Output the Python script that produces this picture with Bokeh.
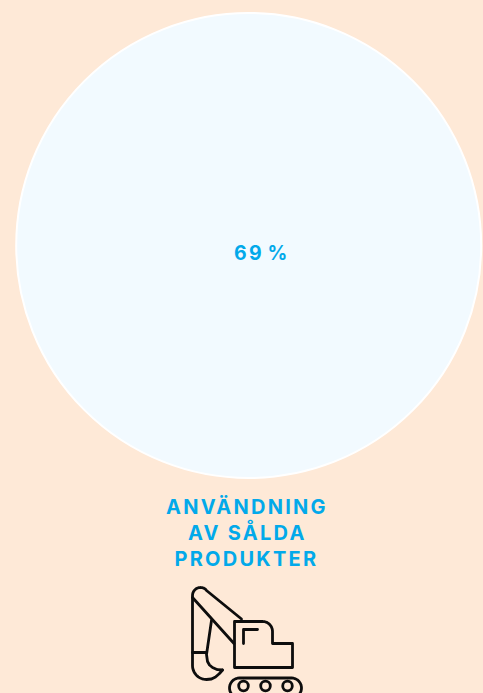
import numpy as np
from bokeh.plotting import figure
from bokeh.models import Range1d
from bokeh.core.properties import value
from bokeh.embed import file_html
from bokeh.resources import INLINE

share_label = ["69\u200a%"]
category_lines = ["ANVÄNDNING", "AV SÅLDA", "PRODUKTER"]

BG = "#fee9d7"
BLUE = "#02a9ea"
CIRCLE = "#f2faff"
INK = "#0d0d0d"
W, H = 483, 693

def arc(cx, cy, r, a0, a1, n=16):
    t = np.radians(np.linspace(a0, a1, n))
    return list(cx + r * np.cos(t)), list(cy + r * np.sin(t))

def path(*parts):
    xs, ys = [], []
    for px, py in parts:
        xs += list(px); ys += list(py)
    return xs, ys

p = figure(width=W, height=H, output_backend="svg", toolbar_location=None,
           x_range=Range1d(0, W), y_range=Range1d(H, 0),
           background_fill_color=BG, border_fill_color=BG,
           min_border=0, outline_line_color=None)
p.axis.visible = False
p.grid.visible = False

p.circle([248.2], [245], radius=232.5, fill_color=CIRCLE, line_color="white", line_width=2)

p.text([233.5], [252], text=share_label, text_font=value("Inter"), text_font_style="bold",
       text_font_size="19.5px", text_color=BLUE, text_align="left", text_baseline="alphabetic")
p.text([165.5, 187.5, 174], [506.5, 532.5, 558], text=category_lines, text_font=value("Inter"),
       text_font_style="bold", text_font_size="20px", text_color=BLUE,
       text_align="left", text_baseline="alphabetic")

# excavator pictogram
shapes = [
    # boom and arm outline
    path(([241], [618.5]), ([206], [590]), arc(200, 595, 8, -50, -180), ([192], [665]),
         arc(206, 665, 14, 180, 90), ([211, 215, 219, 222], [678.5, 676.5, 673, 669.5])),
    path(([192], [597]), ([233.5], [643])),
    path(([211], [620]), ([206], [654]), ([207, 209, 212, 217, 222], [661, 664.5, 667, 669.2, 669.5])),
    path(([192], [652]), ([206], [652])),
    # cab
    path(([234], [621]), ([262], [621]), arc(262, 631, 10, -90, 0), ([272], [643]), ([292], [643]),
         ([292], [667]), ([234], [667]), ([234], [621])),
    path(([243], [643]), ([243], [629]), ([257], [629])),
    # track
    path(([239], [677.5]), ([291], [677.5]), arc(291, 687.5, 10, -90, 90), ([239], [697.5]),
         arc(239, 687.5, 10, 90, 270)),
]
p.multi_line([s[0] for s in shapes], [s[1] for s in shapes], line_color=INK, line_width=2.8,
              line_cap="round", line_join="round")
p.circle([243, 265, 287], [685.5, 685.5, 685.5], radius=4.8, fill_color=None,
         line_color=INK, line_width=2.8)

html = file_html(p, INLINE)
style = ("<style>html,body{margin:0!important;padding:0;background:%s;overflow:hidden;"
         "letter-spacing:2.25px}</style>" % BG)
html = html.replace("</head>", style + "</head>", 1)
open("out.html", "w").write(html)
